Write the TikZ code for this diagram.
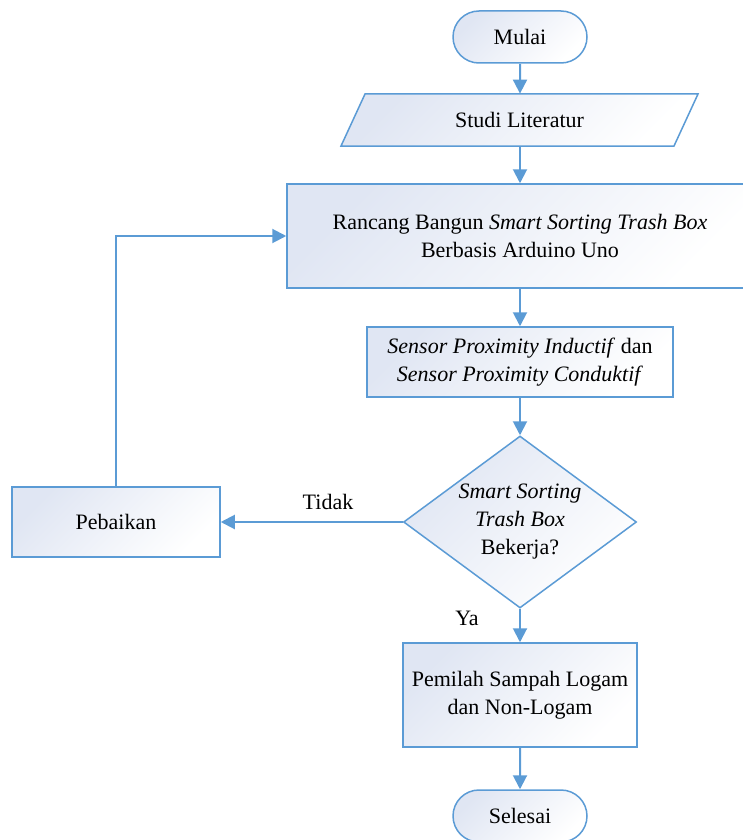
\documentclass[tikz,border=0pt]{standalone}
\usepackage{fontspec}
\setmainfont{Liberation Serif}
\usetikzlibrary{shapes.geometric, shapes.misc, arrows.meta, positioning}
\definecolor{garis}{RGB}{91,155,213}
\definecolor{isi}{RGB}{224,230,243}

\begin{document}
\begin{tikzpicture}[x=0.5pt, y=-0.5pt,
        every node/.style={font=\fontsize{11}{14}\selectfont, align=center},
        kotak/.style={draw=garis, line width=0.75pt, top color=isi, bottom color=white, shading angle=45, inner sep=0pt},
        mulaiakhir/.style={kotak, rounded rectangle, minimum width=67pt, minimum height=26pt},
        panah/.style={draw=garis, line width=1pt, -{Triangle[length=7pt, width=7pt]}}]
            \useasboundingbox (0,0) rectangle (743,840);

            \draw[kotak] (341,146) -- (365,94) -- (698,94) -- (674,146) -- cycle;

            \node[mulaiakhir] (mulai) at (520,37) {Mulai};
            \node[inner sep=0pt, minimum width=166.5pt, minimum height=26pt] (studi) at (519.5,120) {Studi Literatur};
            \node[kotak, minimum width=233pt, minimum height=52pt] (rancang) at (520,236)
                {Rancang Bangun \textit{Smart Sorting Trash Box}\\Berbasis Arduino Uno};
            \node[kotak, minimum width=153pt, minimum height=35pt] (sensor) at (520,362)
                {\textit{Sensor Proximity Inductif} dan\\\textit{Sensor Proximity Conduktif}};
            \node[kotak, diamond, aspect=1.35, minimum width=116.5pt, minimum height=86pt] (kerja) at (520,522)
                {\textit{Smart Sorting}\\\textit{Trash Box}\\Bekerja?};
            \node[kotak, minimum width=104pt, minimum height=35pt] (baik) at (116,522) {Pebaikan};
            \node[kotak, minimum width=117pt, minimum height=52pt] (pilah) at (520,695)
                {Pemilah Sampah Logam\\dan Non-Logam};
            \node[mulaiakhir] (selesai) at (520,816) {Selesai};

            \node (tidak) at (328,502) {Tidak};
            \node (ya) at (467,618) {Ya};

            \draw[panah] (mulai) -- (mulai |- studi.north);
            \draw[panah] (mulai |- studi.south) -- (rancang);
            \draw[panah] (rancang) -- (sensor);
            \draw[panah] (sensor) -- (kerja);
            \draw[panah] (kerja) -- (baik);
            \draw[panah] (baik) |- (rancang);
            \draw[panah] (kerja) -- (pilah);
            \draw[panah] (pilah) -- (selesai);
        \end{tikzpicture}
\end{document}
